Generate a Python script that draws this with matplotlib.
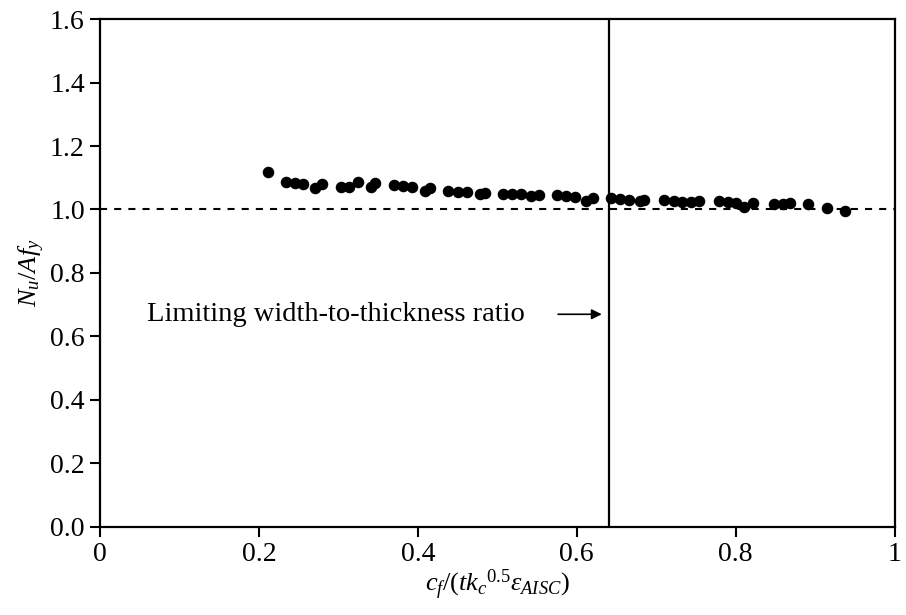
import matplotlib
matplotlib.use('Agg')
import matplotlib.pyplot as plt

plt.rcParams['font.family'] = ['Liberation Serif', 'DejaVu Serif']
plt.rcParams['mathtext.fontset'] = 'custom'
plt.rcParams['mathtext.rm'] = 'Liberation Serif'
plt.rcParams['mathtext.it'] = 'Liberation Serif:italic'

# slenderness ratio vs normalised capacity
ratio = [0.212, 0.234, 0.245, 0.256, 0.271, 0.279, 0.303, 0.313, 0.325, 0.341,
         0.346, 0.370, 0.381, 0.393, 0.409, 0.415, 0.438, 0.450, 0.462, 0.478,
         0.484, 0.507, 0.518, 0.530, 0.543, 0.553, 0.575, 0.586, 0.598, 0.612,
         0.620, 0.643, 0.655, 0.666, 0.679, 0.685, 0.710, 0.722, 0.733, 0.744,
         0.754, 0.779, 0.790, 0.801, 0.811, 0.822, 0.848, 0.859, 0.869, 0.891,
         0.915, 0.938]
capacity = [1.119, 1.086, 1.083, 1.080, 1.067, 1.079, 1.070, 1.070, 1.088, 1.072,
            1.083, 1.077, 1.074, 1.070, 1.058, 1.067, 1.058, 1.056, 1.055, 1.048,
            1.053, 1.048, 1.048, 1.048, 1.043, 1.046, 1.046, 1.043, 1.040, 1.028,
            1.035, 1.035, 1.032, 1.030, 1.028, 1.030, 1.030, 1.028, 1.025, 1.023,
            1.027, 1.028, 1.025, 1.020, 1.007, 1.020, 1.016, 1.016, 1.020, 1.016,
            1.004, 0.996]
limit_ratio = 0.64
xticks = [0, 0.2, 0.4, 0.6, 0.8, 1]
xticklabels = ['0', '0.2', '0.4', '0.6', '0.8', '1']
yticks = [0.0, 0.2, 0.4, 0.6, 0.8, 1.0, 1.2, 1.4, 1.6]

fig = plt.figure(figsize=(9.06, 6.15), dpi=100)
ax = fig.add_axes([0.1104, 0.1431, 0.877, 0.826])

ax.axhline(1.0, color='black', lw=1.5, ls=(0, (3.4, 3.4)), zorder=1)
ax.axvline(limit_ratio, color='black', lw=1.6, zorder=1)
ax.plot(ratio, capacity, 'o', color='black', markersize=7.3, zorder=3)

ax.annotate('', xy=(0.635, 0.67), xytext=(0.573, 0.67),
            arrowprops=dict(arrowstyle='-|>', color='black', lw=1.2, mutation_scale=15))
ax.text(0.059, 0.67, 'Limiting width-to-thickness ratio', fontsize=20.5, va='center', ha='left')

ax.set_xlim(0, 1)
ax.set_ylim(0, 1.6)
ax.set_xticks(xticks, xticklabels)
ax.set_yticks(yticks, ['%.1f' % v for v in yticks])
ax.tick_params(direction='out', length=7, width=1.5, labelsize=20, pad=4)
for s in ax.spines.values():
    s.set_linewidth(1.6)

ax.set_xlabel(r'$c_f/(t{k_c}^{\mathrm{0.5}}\varepsilon_{AISC})$', fontsize=19, labelpad=0)
ax.set_ylabel(r'$N_u/Af_y$', fontsize=19, labelpad=2)

fig.savefig('out.png', dpi=100)
